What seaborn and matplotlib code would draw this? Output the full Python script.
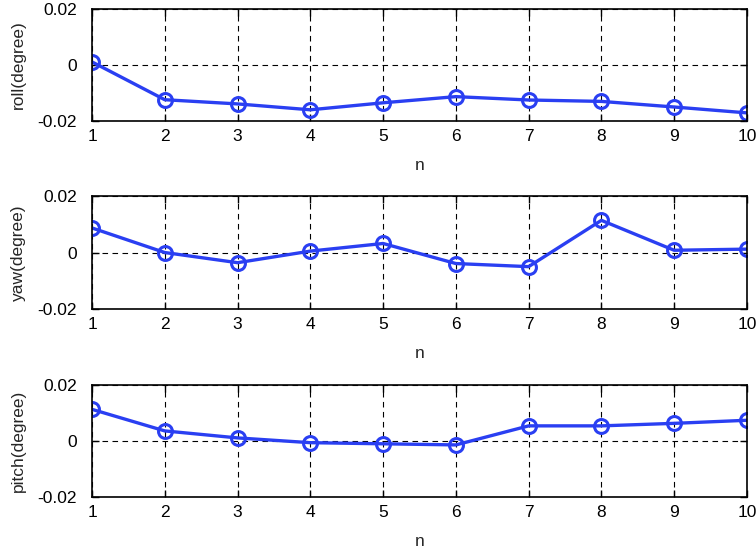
import matplotlib
matplotlib.use("Agg")
import matplotlib.pyplot as plt
import seaborn as sns
import pandas as pd

n = [1, 2, 3, 4, 5, 6, 7, 8, 9, 10]
roll = [0.0011, -0.0124, -0.0139, -0.0160, -0.0135, -0.0113, -0.0125, -0.0130, -0.0150, -0.0171]
yaw = [0.0087, 0.0000, -0.0036, 0.0005, 0.0032, -0.0039, -0.0050, 0.0114, 0.0008, 0.0012]
pitch = [0.0113, 0.0036, 0.0011, -0.0006, -0.0010, -0.0014, 0.0054, 0.0054, 0.0063, 0.0074]
y_ticks = [-0.02, 0, 0.02]
y_tick_labels = ["-0.02", "0", "0.02"]

series = [("roll(degree)", roll), ("yaw(degree)", yaw), ("pitch(degree)", pitch)]

sns.set_style("ticks")
plt.rcParams["font.family"] = ["Liberation Sans", "DejaVu Sans"]

fig = plt.figure(figsize=(7.56, 5.51), dpi=100)
# axes boxes in figure fractions (left, bottom, width, height)
boxes = [(0.1217, 0.7804, 0.8663, 0.2033),
         (0.1217, 0.4392, 0.8663, 0.2050),
         (0.1217, 0.0980, 0.8663, 0.2033)]

line_color = "#2a3ff2"

for (label, vals), box in zip(series, boxes):
    ax = fig.add_axes(box)
    df = pd.DataFrame({"n": n, "v": vals})
    sns.lineplot(data=df, x="n", y="v", ax=ax, color=line_color, linewidth=2.4,
                 marker="o", markersize=10, markerfacecolor="none",
                 markeredgecolor=line_color, markeredgewidth=2.2)
    ax.set_xlim(1, 10)
    ax.set_ylim(-0.02, 0.02)
    ax.set_xticks(n)
    ax.set_yticks(y_ticks)
    ax.set_yticklabels(y_tick_labels)
    ax.grid(True, color="black", linestyle=(0, (5, 4)), linewidth=0.8)
    ax.set_axisbelow(True)
    for sp in ax.spines.values():
        sp.set_visible(True)
        sp.set_color("black")
        sp.set_linewidth(1.2)
    ax.tick_params(direction="in", top=True, right=True, labelsize=12.5,
                   length=5, width=1, colors="black")
    ax.tick_params(axis="x", pad=6)
    ax.tick_params(axis="y", pad=11)
    ax.set_xlabel("n", fontsize=12.5, labelpad=10)
    ax.set_ylabel(label, fontsize=12.5, labelpad=8)

fig.savefig("out.png", dpi=100, facecolor="white")
